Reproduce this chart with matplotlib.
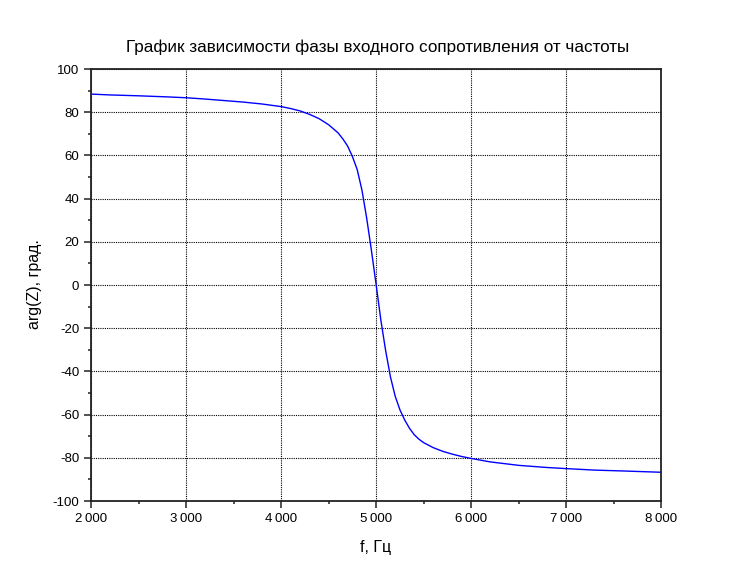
import matplotlib
matplotlib.use('Agg')
import matplotlib.pyplot as plt
from matplotlib.ticker import MultipleLocator, FuncFormatter

plt.rcParams['font.family'] = ['Liberation Sans', 'DejaVu Sans']

# frequency [Hz] and phase [deg]
freq = [2000, 2200, 2500, 2800, 3000, 3200, 3400, 3600, 3800, 4000, 4100, 4200,
        4300, 4400, 4500, 4600, 4650, 4700, 4750, 4800, 4850, 4900, 4950, 5000,
        5050, 5100, 5150, 5200, 5250, 5300, 5350, 5400, 5450, 5500, 5600, 5700,
        5800, 5900, 6000, 6200, 6500, 6800, 7000, 7300, 7600, 8000]
phase = [88.4, 88.0, 87.6, 87.1, 86.7, 86.1, 85.4, 84.7, 83.8, 82.6, 81.7, 80.6,
         79.0, 77.0, 74.2, 70.4, 67.6, 64.3, 59.5, 53.5, 44.0, 31.0, 16.0, 0.0,
         -16.5, -30.5, -42.5, -51.5, -57.8, -62.5, -66.3, -69.3, -71.4, -73.0, -75.3, -77.0,
         -78.3, -79.4, -80.3, -81.9, -83.5, -84.5, -85.0, -85.7, -86.1, -86.7]

title = 'График зависимости фазы входного сопротивления от частоты'
xlabel = 'f, Гц'
ylabel = 'arg(Z), град.'

fig = plt.figure(figsize=(7.55, 5.69), dpi=100)
ax = fig.add_axes([0.1205, 0.1195, 0.7555, 0.7592])

ax.plot(freq, phase, color='#0000ff', lw=1.0)

ax.set_xlim(2000, 8000)
ax.set_ylim(-100, 100)
ax.xaxis.set_major_locator(MultipleLocator(1000))
ax.xaxis.set_minor_locator(MultipleLocator(500))
ax.yaxis.set_major_locator(MultipleLocator(20))
ax.yaxis.set_minor_locator(MultipleLocator(10))
ax.xaxis.set_major_formatter(FuncFormatter(
    lambda v, p: '{:,}'.format(int(v)).replace(',', '\u2009')))
ax.yaxis.set_major_formatter(FuncFormatter(lambda v, p: '%d' % int(round(v))))

ax.grid(True, which='major', color='black', linestyle=(0, (1, 1)), lw=0.8)
ax.tick_params(which='major', direction='out', length=5, width=1.1,
               labelsize=9.5, pad=3.5, color='#222222')
ax.tick_params(which='minor', direction='out', length=2.5, width=1.1, color='#222222')
for s in ax.spines.values():
    s.set_linewidth(1.3)
    s.set_color('#222222')

fig.text(0.5, 0.917, title, ha='center', va='center', fontsize=12.3)
fig.text(0.498, 0.037, xlabel, ha='center', va='center', fontsize=11.5)
fig.text(0.046, 0.5, ylabel, ha='center', va='center', rotation=90, fontsize=11.5)

fig.savefig('out.png', dpi=100)
